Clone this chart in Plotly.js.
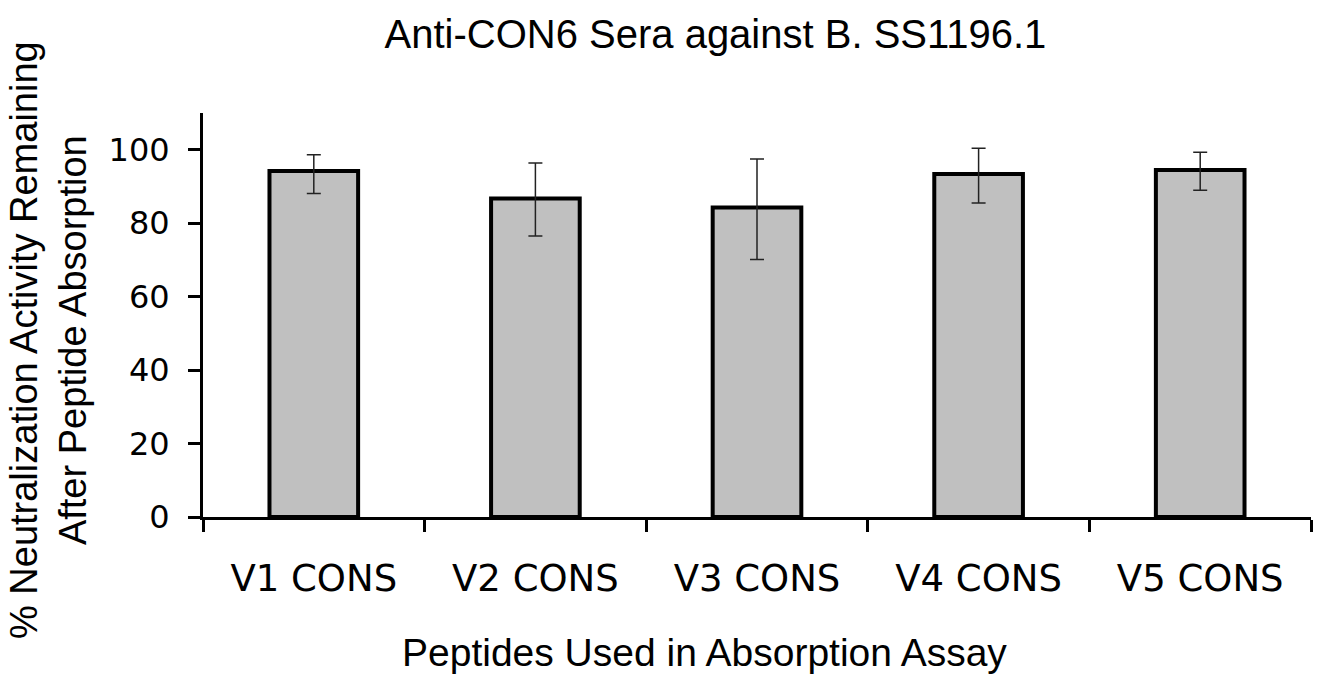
<!DOCTYPE html>
<html>
<head>
<meta charset="utf-8">
<script src="https://cdn.plot.ly/plotly-3.0.1.min.js"></script>
<style>html,body{margin:0;padding:0;background:#fff;}#chart{width:1321px;height:678px;}</style>
</head>
<body>
<div id="chart"></div>
<script>
const categories = ["V1 CONS", "V2 CONS", "V3 CONS", "V4 CONS", "V5 CONS"];
const values = [94.2, 86.7, 84.3, 93.4, 94.5];
const errPlus = [4.4, 9.7, 13.2, 7.0, 4.8];
const errMinus = [6.1, 10.2, 14.2, 7.9, 5.5];
const yTicks = [0, 20, 40, 60, 80, 100];

const trace = {
  type: "bar",
  x: categories,
  y: values,
  marker: {color: "#C0C0C0", line: {color: "#000000", width: 4}},
  error_y: {type: "data", symmetric: false, array: errPlus, arrayminus: errMinus,
            color: "#222222", thickness: 1.5, width: 7},
  hoverinfo: "x+y"
};

const layout = {
  width: 1321, height: 678,
  margin: {l: 203, r: 10, t: 113, b: 161, pad: 0},
  paper_bgcolor: "#ffffff", plot_bgcolor: "#ffffff",
  showlegend: false,
  bargap: 0.6,
  title: {text: "Anti-CON6 Sera against B. SS1196.1",
          font: {family: "Liberation Sans, Arial, sans-serif", size: 40, color: "#000"},
          x: 0.5416, xref: "container", xanchor: "center",
          y: 1 - 34/678, yref: "container", yanchor: "middle"},
  xaxis: {
    type: "category", range: [-0.5, 4.5],
    showline: true, linecolor: "#000", linewidth: 3,
    ticks: "outside", tickson: "boundaries", ticklen: 12, tickwidth: 3, tickcolor: "#000",
    ticklabelstandoff: 27,
    tickfont: {family: "DejaVu Sans, Verdana, sans-serif", size: 37, color: "#000"},
    showgrid: false, zeroline: false
  },
  yaxis: {
    range: [0, 110], tickvals: yTicks, ticktext: yTicks.map(String),
    showline: true, linecolor: "#000", linewidth: 3,
    ticks: "outside", ticklen: 12, tickwidth: 3, tickcolor: "#000",
    ticklabelstandoff: 12,
    tickfont: {family: "DejaVu Sans, Verdana, sans-serif", size: 32, color: "#000"},
    showgrid: false, zeroline: false
  },
  annotations: [{
    text: "% Neutralization Activity Remaining<br>After Peptide Absorption",
    font: {family: "Liberation Sans, Arial, sans-serif", size: 38, color: "#000"},
    textangle: -90, showarrow: false,
    xref: "paper", yref: "paper",
    x: (48 - 203) / 1108, y: (516.7 - 340) / 403.4,
    xanchor: "center", yanchor: "middle", align: "center"
  }, {
    text: "Peptides Used in Absorption Assay",
    font: {family: "Liberation Sans, Arial, sans-serif", size: 39, color: "#000"},
    showarrow: false,
    xref: "paper", yref: "paper",
    x: (704 - 203) / 1108, y: (516.7 - 652) / 403.4,
    xanchor: "center", yanchor: "middle"
  }]
};

Plotly.newPlot("chart", [trace], layout, {displayModeBar: false, staticPlot: true});
</script>
</body>
</html>
